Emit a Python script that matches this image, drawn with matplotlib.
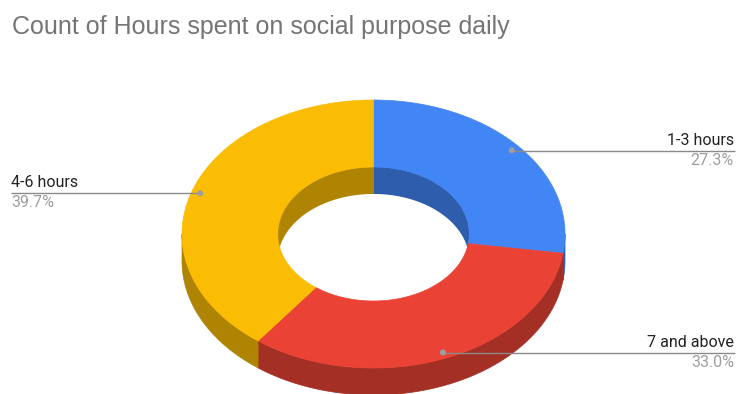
import numpy as np
import matplotlib
matplotlib.use("Agg")
import matplotlib.pyplot as plt
from matplotlib.patches import Polygon, Circle

# Data
categories = ["1-3 hours", "7 and above", "4-6 hours"]
shares = [27.3, 33.0, 39.7]
top_colors = ["#4285F4", "#EA4335", "#FBBC04"]
side_colors = ["#2E5DAB", "#A42F25", "#B08403"]
title = "Count of Hours spent on social purpose daily"

W, H = 737, 394
fig = plt.figure(figsize=(W / 100, H / 100), dpi=100)
ax = fig.add_axes([0, 0, 1, 1])
ax.set_xlim(0, W)
ax.set_ylim(H, 0)
ax.axis("off")

# Donut geometry (pixel space, y grows downward)
cx, cy = 373.5, 234.0
rx, ry = 191.5, 134.0
hole = 0.5
depth = 27.0


def pt(theta_deg, scale=1.0, dy=0.0):
    t = np.radians(theta_deg)
    return cx + scale * rx * np.sin(t), cy - scale * ry * np.cos(t) + dy


def arc(t1, t2, scale, dy=0.0, n=120):
    th = np.linspace(t1, t2, n)
    x, y = pt(th, scale, dy)
    return np.column_stack([x, y])


total = sum(shares)
bounds = np.concatenate([[0], np.cumsum(shares) / total * 360.0])

# Outer walls: visible on the front half (90..270 deg clockwise from top)
for i in range(len(shares)):
    a, b = max(bounds[i], 90), min(bounds[i + 1], 270)
    if b > a:
        top = arc(a, b, 1.0)
        bot = arc(b, a, 1.0, depth)
        ax.add_patch(Polygon(np.vstack([top, bot]), closed=True,
                             fc=side_colors[i], ec=side_colors[i], lw=0.5, zorder=1))

# Inner walls: back half of the hole (270..450 deg)
for i in range(len(shares)):
    for lo, hi in [(-90, 90), (270, 450)]:
        a, b = max(bounds[i], lo), min(bounds[i + 1], hi)
        if b > a:
            top = arc(a, b, hole)
            bot = arc(b, a, hole, depth)
            ax.add_patch(Polygon(np.vstack([top, bot]), closed=True,
                                 fc=side_colors[i], ec=side_colors[i], lw=0.5, zorder=2))

# Hole floor seen through the ring
floor = arc(0, 360, hole, depth)
ax.add_patch(Polygon(floor, closed=True, fc="white", ec="none", zorder=2.5))

# Top faces
for i in range(len(shares)):
    a, b = bounds[i], bounds[i + 1]
    outer = arc(a, b, 1.0)
    inner = arc(b, a, hole)
    ax.add_patch(Polygon(np.vstack([outer, inner]), closed=True,
                         fc=top_colors[i], ec=top_colors[i], lw=0.5, zorder=3))

# Leader lines and labels
label_font = ["Roboto", "DejaVu Sans"]
line_col = "#8a8a8a"
layout = {
    "1-3 hours": dict(x_end=735, y=151, ha="right", x_text=734),
    "7 and above": dict(x_end=735, y=353, ha="right", x_text=734),
    "4-6 hours": dict(x_end=11, y=193, ha="left", x_text=11),
}
for i, name in enumerate(categories):
    mid = (bounds[i] + bounds[i + 1]) / 2
    px, py = pt(mid, 0.955)
    spec = layout[name]
    ax.plot([px, spec["x_end"]], [spec["y"], spec["y"]], color=line_col, lw=1.0, zorder=5,
            solid_capstyle="butt")
    ax.plot([px, px], [py, spec["y"]], color=line_col, lw=1.0, zorder=5)
    ax.add_patch(Circle((px, py), 2.3, color="#9e9e9e", zorder=6))
    ax.text(spec["x_text"], spec["y"] - 3, name, ha=spec["ha"], va="bottom",
            fontsize=11.5, color="#222222", family=label_font, zorder=7)
    ax.text(spec["x_text"], spec["y"] + 2, f"{shares[i]:.1f}%", ha=spec["ha"], va="top",
            fontsize=11.5, color="#9e9e9e", family=label_font, zorder=7)

ax.text(12, 27, title, ha="left", va="center", fontsize=18, color="#757575",
        family=["Liberation Sans", "DejaVu Sans"])

fig.savefig("out.png", dpi=100, facecolor="white")
